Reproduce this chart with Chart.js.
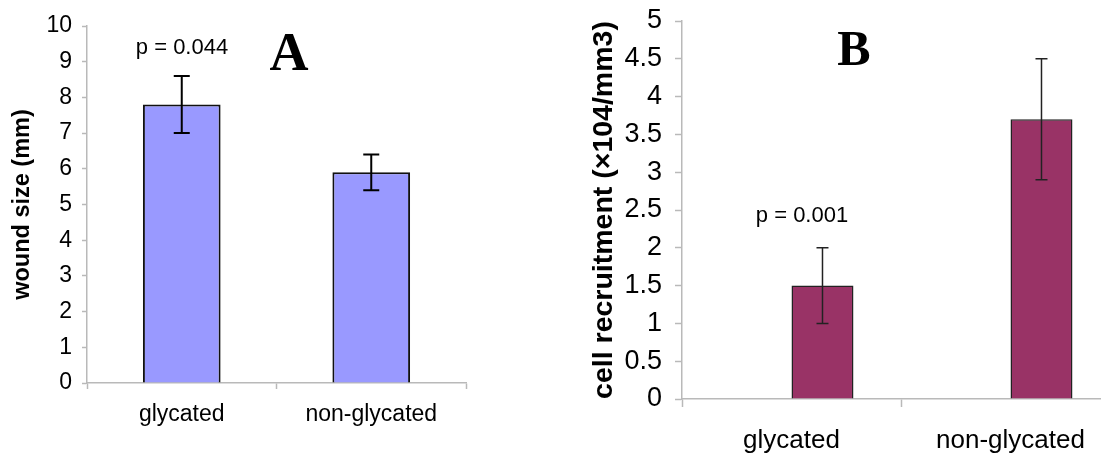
<!DOCTYPE html>
<html>
<head>
<meta charset="utf-8">
<script src="https://cdn.jsdelivr.net/npm/chart.js@4"></script>
<style>
  html, body { margin: 0; padding: 0; background: #fff; width: 1101px; height: 456px; overflow: hidden; }
  #panel-a { position: absolute; left: 0; top: 0; }
  #panel-b { position: absolute; left: 580px; top: 0; }
</style>
</head>
<body>
<canvas id="panel-a" width="480" height="456"></canvas>
<canvas id="panel-b" width="560" height="456"></canvas>
<script>
var categories = ['glycated', 'non-glycated'];

// panel A: wound size
var woundSize = [7.8, 5.9];
var woundErr = [0.8, 0.5];

// panel B: cell recruitment
var recruitment = [1.5, 3.7];
var recruitmentErr = [0.5, 0.8];

var axisGray = '#b9b9b9';
var sans = "'Liberation Sans', Arial, sans-serif";
var serif = "'Liberation Serif', 'Times New Roman', serif";

// error bars from the y scale
var errorBars = {
  id: 'errorBars',
  afterDatasetsDraw: function(chart, args, opts) {
    var ctx = chart.ctx;
    var y = chart.scales.y;
    chart.data.datasets.forEach(function(ds, di) {
      if (!ds.errors) return;
      chart.getDatasetMeta(di).data.forEach(function(bar, i) {
        var v = ds.data[i], e = ds.errors[i];
        var top = y.getPixelForValue(v + e);
        var bot = y.getPixelForValue(v - e);
        ctx.save();
        ctx.strokeStyle = opts.color;
        ctx.lineWidth = opts.width;
        ctx.beginPath();
        ctx.moveTo(bar.x, top); ctx.lineTo(bar.x, bot);
        ctx.moveTo(bar.x - opts.cap, top); ctx.lineTo(bar.x + opts.cap, top);
        ctx.moveTo(bar.x - opts.cap, bot); ctx.lineTo(bar.x + opts.cap, bot);
        ctx.stroke();
        ctx.restore();
      });
    });
  }
};

// p-value and panel letter
var notes = {
  id: 'notes',
  afterDraw: function(chart, args, opts) {
    var ctx = chart.ctx;
    ctx.save();
    ctx.fillStyle = '#000';
    ctx.textAlign = 'center';
    ctx.textBaseline = 'middle';
    ctx.font = opts.pFont;
    ctx.fillText(opts.pText, opts.pX, opts.pY);
    ctx.textBaseline = 'alphabetic';
    ctx.font = opts.letterFont;
    ctx.fillText(opts.letter, opts.letterX, opts.letterY);
    ctx.restore();
  }
};

function makeScales(o) {
  return {
    x: {
      afterFit: function(s) { s.height = o.xHeight; },
      grid: { drawOnChartArea: false, offset: true, color: axisGray, tickLength: o.xTick, tickWidth: 1.5 },
      border: { color: axisGray, width: 1.5 },
      ticks: { color: '#000', font: { family: sans, size: o.catSize }, padding: o.xPad }
    },
    y: {
      min: 0, max: o.max,
      afterFit: function(s) { s.width = o.yWidth; s.paddingTop = 10; s.paddingBottom = 10; },
      grid: { drawOnChartArea: false, color: axisGray, tickLength: o.yTick, tickWidth: 1.5 },
      border: { color: axisGray, width: 1.5 },
      ticks: {
        stepSize: o.step, color: '#000', font: { family: sans, size: o.tickSize }, padding: o.yPad,
        callback: function(v) { return String(v); }
      },
      title: {
        display: true, text: o.title, color: '#000',
        font: { family: sans, size: o.titleSize, weight: 'bold' },
        padding: { top: o.titlePad, bottom: 0 }
      }
    }
  };
}

new Chart(document.getElementById('panel-a'), {
  type: 'bar',
  data: {
    labels: categories,
    datasets: [{
      data: woundSize,
      errors: woundErr,
      backgroundColor: '#9999ff',
      borderColor: '#111',
      borderWidth: 2,
      barPercentage: 0.82,
      categoryPercentage: 0.5
    }]
  },
  options: {
    responsive: false,
    animation: false,
    layout: { padding: { top: 26, right: 14, left: 0, bottom: 0 } },
    scales: makeScales({
      max: 10, step: 1, xHeight: 73, yWidth: 87, xTick: 6, yTick: 5,
      xPad: 12, yPad: 10, catSize: 23, tickSize: 23,
      title: 'wound size (mm)', titleSize: 23.5, titlePad: 8
    }),
    plugins: {
      legend: { display: false },
      tooltip: { enabled: false },
      errorBars: { color: '#000', width: 2, cap: 8 },
      notes: {
        pText: 'p = 0.044', pX: 182, pY: 48, pFont: '22px ' + sans,
        letter: 'A', letterX: 289, letterY: 70, letterFont: 'bold 54px ' + serif
      }
    }
  },
  plugins: [errorBars, notes]
});

new Chart(document.getElementById('panel-b'), {
  type: 'bar',
  data: {
    labels: categories,
    datasets: [{
      data: [null, null],
      backgroundColor: 'rgba(0,0,0,0)'
    }, {
      data: recruitment,
      errors: recruitmentErr,
      backgroundColor: '#993366',
      borderColor: '#222',
      borderWidth: 1.5
    }]
  },
  options: {
    responsive: false,
    animation: false,
    datasets: { bar: { barPercentage: 1, categoryPercentage: 0.566 } },
    layout: { padding: { top: 21, right: 20, left: 0, bottom: 0 } },
    scales: makeScales({
      max: 5, step: 0.5, xHeight: 57, yWidth: 102, xTick: 8, yTick: 7,
      xPad: 18, yPad: 13, catSize: 26, tickSize: 27,
      title: 'cell recruitment (×104/mm3)', titleSize: 28.5, titlePad: 7
    }),
    plugins: {
      legend: { display: false },
      tooltip: { enabled: false },
      errorBars: { color: '#222', width: 1.5, cap: 6 },
      notes: {
        pText: 'p = 0.001', pX: 222, pY: 216, pFont: '22px ' + sans,
        letter: 'B', letterX: 274, letterY: 65, letterFont: 'bold 50px ' + serif
      }
    }
  },
  plugins: [errorBars, notes]
});
</script>
</body>
</html>
